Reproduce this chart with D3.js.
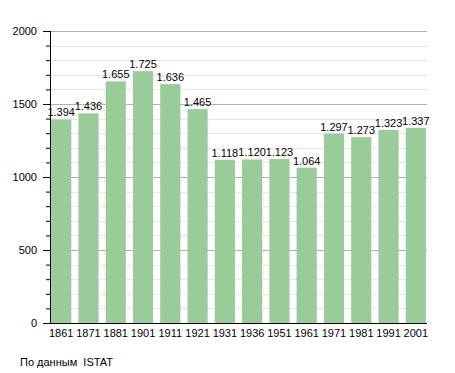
<!DOCTYPE html>
<html>
<head>
<meta charset="utf-8">
<script src="https://cdn.jsdelivr.net/npm/d3@7"></script>
<style>
body { margin: 0; background: #fff; }
text { font-family: "Liberation Sans", Arial, sans-serif; }
</style>
</head>
<body>
<div id="chart"></div>
<script>
var years = ["1861","1871","1881","1901","1911","1921","1931","1936","1951","1961","1971","1981","1991","2001"];
var population = [1394,1436,1655,1725,1636,1465,1118,1120,1123,1064,1297,1273,1323,1337];
var yTicks = [0,500,1000,1500,2000];

var margin = {top: 31, right: 28, bottom: 50, left: 50};
var fullWidth = 455, fullHeight = 373;
var width = fullWidth - margin.left - margin.right;
var height = fullHeight - margin.top - margin.bottom;

var svg = d3.select("#chart").append("svg")
    .attr("width", fullWidth)
    .attr("height", fullHeight);

var g = svg.append("g")
    .attr("transform", "translate(" + margin.left + "," + margin.top + ")");

var x = d3.scaleBand().domain(years).range([0, width]).paddingInner(0.26).paddingOuter(0.04);
var y = d3.scaleLinear().domain([0, 2000]).range([height, 0]);

// minor grid every 100
g.selectAll(".minor")
    .data(d3.range(100, 2001, 100).filter(function(d){ return d % 500 != 0; }))
    .enter().append("line")
    .attr("x1", 0).attr("x2", width)
    .attr("y1", function(d){ return Math.round(y(d)) + 0.5; })
    .attr("y2", function(d){ return Math.round(y(d)) + 0.5; })
    .style("stroke", "#e6e6e6");

// major grid
g.selectAll(".major")
    .data(yTicks.slice(1))
    .enter().append("line")
    .attr("x1", 0).attr("x2", width)
    .attr("y1", function(d){ return Math.round(y(d)) + 0.5; })
    .attr("y2", function(d){ return Math.round(y(d)) + 0.5; })
    .style("stroke", "#b0b0b0");

g.selectAll(".bar")
    .data(population)
    .enter().append("rect")
    .attr("x", function(d,i){ return x(years[i]); })
    .attr("y", function(d){ return y(d); })
    .attr("width", x.bandwidth())
    .attr("height", function(d){ return height - y(d); })
    .style("fill", "#99cc99");

g.selectAll(".val")
    .data(population)
    .enter().append("text")
    .attr("x", function(d,i){ return x(years[i]) + x.bandwidth()/2; })
    .attr("y", function(d){ return y(d) - 3; })
    .attr("text-anchor", "middle")
    .style("font-size", "11px")
    .text(function(d){ return d3.format(",")(d).replace(",", "."); });

// y axis with minor ticks
var yAxis = g.append("g")
    .call(d3.axisLeft(y).tickValues(d3.range(0, 2001, 100)).tickSize(4).tickFormat(""));
yAxis.select(".domain").remove();
yAxis.selectAll("line").style("stroke", "#000");
yAxis.selectAll(".tick")
    .filter(function(d){ return d % 500 == 0; })
    .select("line").attr("x2", -7);

g.append("g").selectAll("text")
    .data(yTicks)
    .enter().append("text")
    .attr("x", -13)
    .attr("y", function(d){ return y(d) + 4; })
    .attr("text-anchor", "end")
    .style("font-size", "11px")
    .text(function(d){ return d; });

g.append("line")
    .attr("x1", 0.5).attr("x2", 0.5).attr("y1", 0).attr("y2", height)
    .style("stroke", "#000");
g.append("line")
    .attr("x1", 0).attr("x2", width).attr("y1", height + 0.5).attr("y2", height + 0.5)
    .style("stroke", "#000");

var xAxis = g.append("g")
    .attr("transform", "translate(0," + height + ")")
    .call(d3.axisBottom(x).tickSize(0).tickPadding(6));
xAxis.select(".domain").remove();
xAxis.selectAll("text").style("font-size", "11px").style("font-family", "Liberation Sans, Arial, sans-serif");

svg.append("text")
    .attr("x", 20)
    .attr("y", 366)
    .style("font-size", "11px")
    .style("white-space", "pre")
    .text("По данным  ISTAT");
</script>
</body>
</html>
